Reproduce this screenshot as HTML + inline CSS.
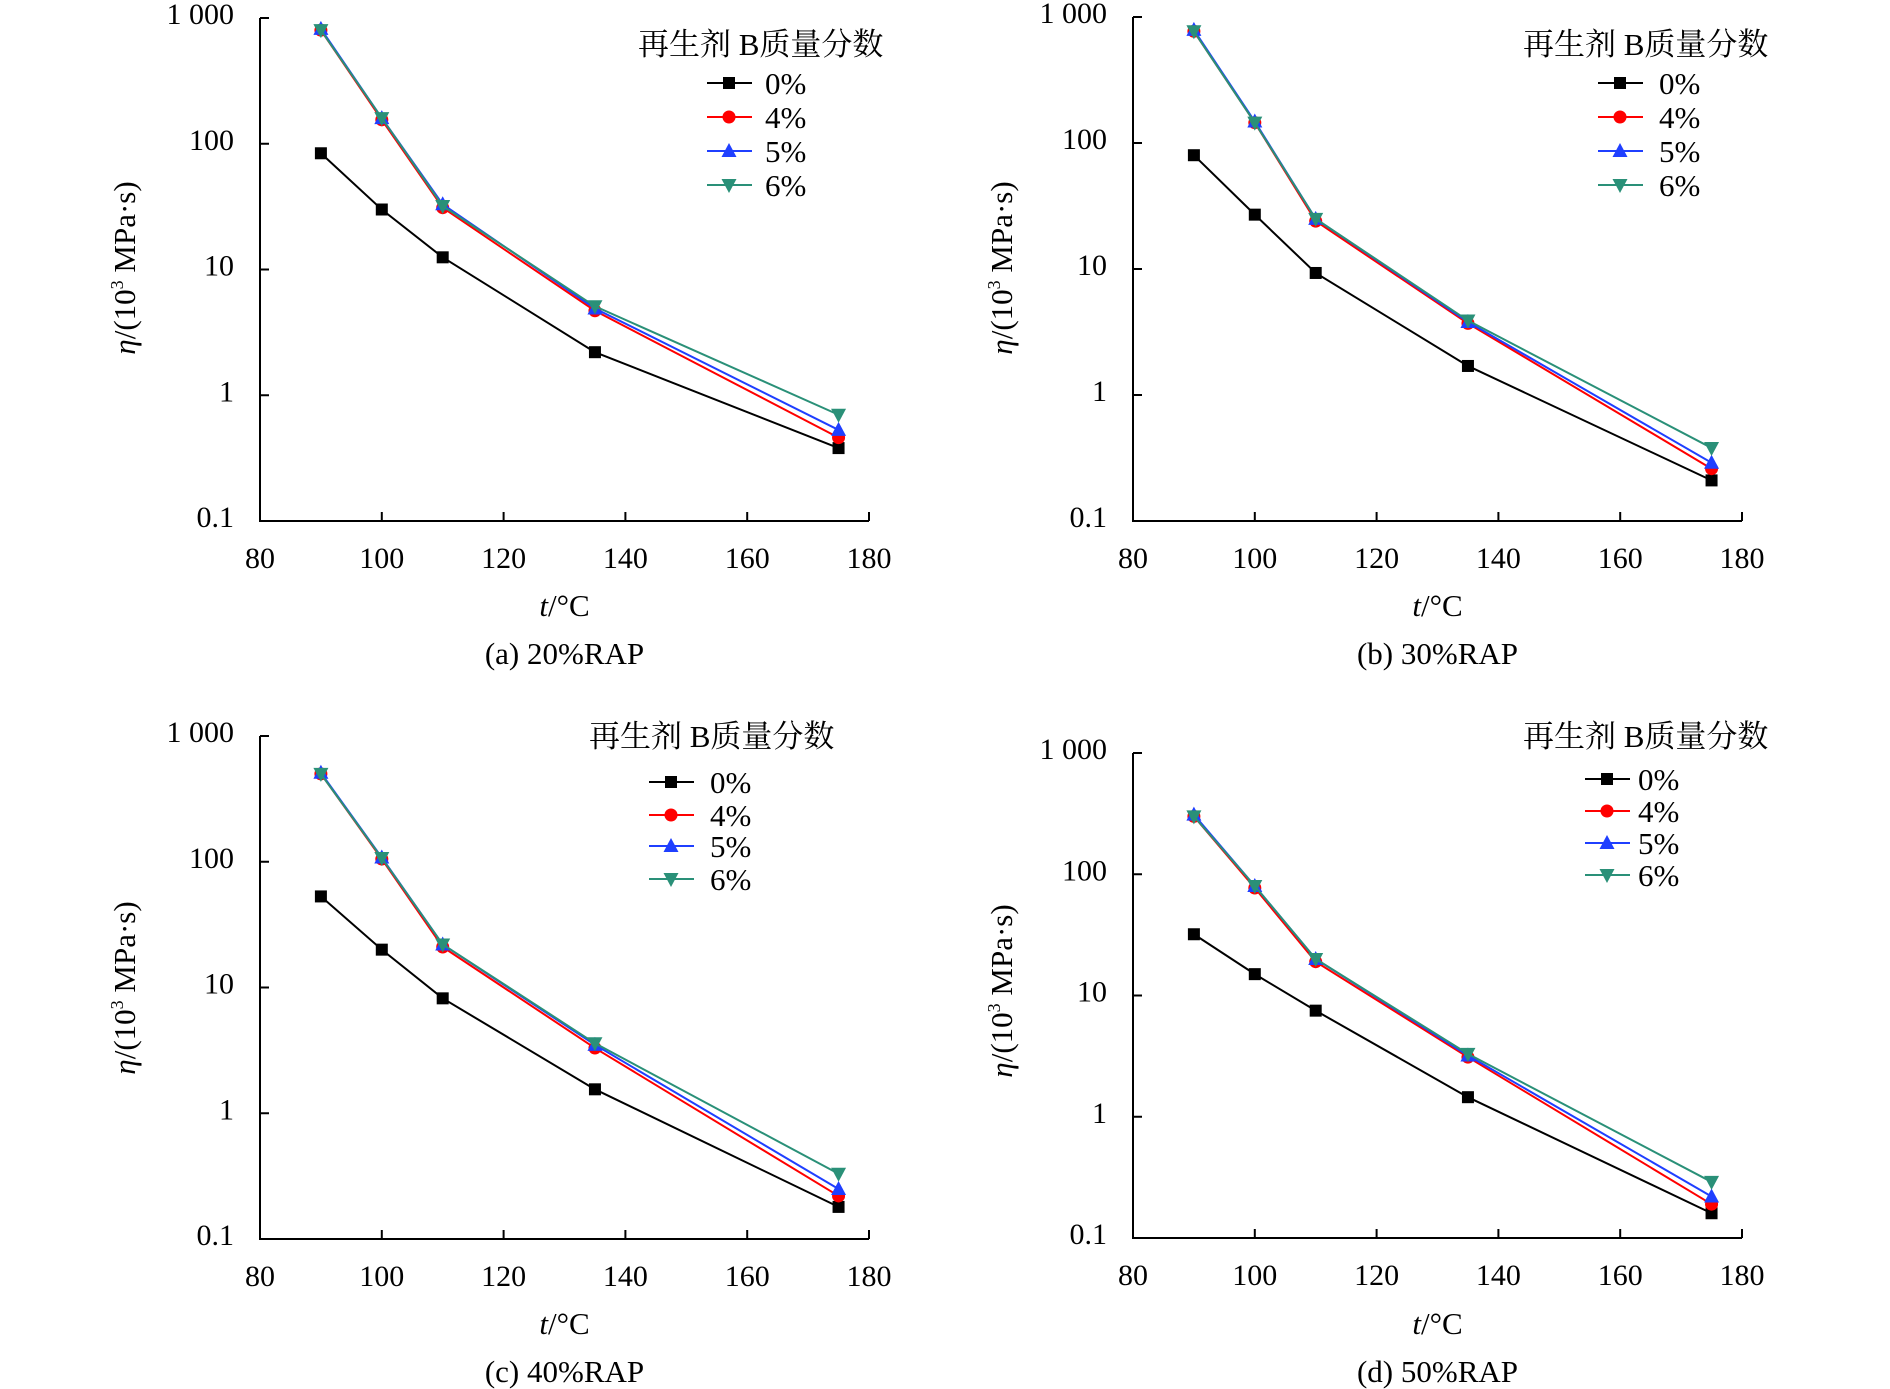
<!DOCTYPE html>
<html><head><meta charset="utf-8">
<style>
html,body{margin:0;padding:0;background:#fff;}
svg{display:block;}
text{font-family:"Liberation Serif","Noto Serif CJK SC",serif;fill:#000;}
</style></head>
<body>
<svg id="chart" width="1890" height="1389" viewBox="0 0 1890 1389"></svg>
<script>
const temps = [90, 100, 110, 135, 175];
const seriesNames = ['0%', '4%', '5%', '6%'];
const panelCaptions = ['(a) 20%RAP', '(b) 30%RAP', '(c) 40%RAP', '(d) 50%RAP'];
const xTicks = [80, 100, 120, 140, 160, 180];
const yTicks = [0.1, 1, 10, 100, 1000];
const yTickLabels = ['0.1', '1', '10', '100', '1 000'];
const dataA0 = [84, 30, 12.5, 2.2, 0.38];
const dataA4 = [800, 155, 31, 4.7, 0.46];
const dataA5 = [820, 160, 33, 4.9, 0.53];
const dataA6 = [800, 160, 32, 5.1, 0.70];
const dataB0 = [80, 27, 9.3, 1.7, 0.21];
const dataB4 = [770, 145, 24, 3.7, 0.26];
const dataB5 = [790, 148, 25, 3.8, 0.29];
const dataB6 = [770, 145, 25, 3.9, 0.38];
const dataC0 = [53, 20, 8.2, 1.55, 0.18];
const dataC4 = [500, 105, 21, 3.3, 0.22];
const dataC5 = [510, 108, 22, 3.5, 0.25];
const dataC6 = [500, 107, 22, 3.6, 0.33];
const dataD0 = [32, 15, 7.5, 1.45, 0.16];
const dataD4 = [300, 77, 19, 3.1, 0.19];
const dataD5 = [310, 80, 20, 3.2, 0.22];
const dataD6 = [300, 80, 20, 3.3, 0.29];

const panelData = [[dataA0,dataA4,dataA5,dataA6],[dataB0,dataB4,dataB5,dataB6],[dataC0,dataC4,dataC5,dataC6],[dataD0,dataD4,dataD5,dataD6]];
const colors = ['#000000', '#ff0000', '#1f3fff', '#2a9078'];
const markers = ['square', 'circle', 'tri', 'tridown'];
const layouts = [
  {x0:260,x1:869,yTop:18,yBot:521,ytx:125,yc:268,xlab:606,cap:654,legTitleX:638,legTitleY:44,legLine:707,legText:765,legY:[83,117,151,185]},
  {x0:1133,x1:1742,yTop:17,yBot:521,ytx:1002,yc:268,xlab:606,cap:654,legTitleX:1523,legTitleY:44,legLine:1598,legText:1659,legY:[83,117,151,185]},
  {x0:260,x1:869,yTop:736,yBot:1239,ytx:125,yc:988,xlab:1324,cap:1372,legTitleX:589,legTitleY:736,legLine:649,legText:710,legY:[782,815,846,879]},
  {x0:1133,x1:1742,yTop:753,yBot:1238,ytx:1002,yc:991,xlab:1324,cap:1372,legTitleX:1523,legTitleY:736,legLine:1585,legText:1638,legY:[779,811,843,875]}
];
const NS = 'http://www.w3.org/2000/svg';
const svg = document.getElementById('chart');
function mk(tag, attrs, parent){
  const e = document.createElementNS(NS, tag);
  for (const k in attrs) e.setAttribute(k, attrs[k]);
  (parent||svg).appendChild(e);
  return e;
}
function marker(g, type, x, y, c){
  let m;
  if (type==='square') m = mk('rect',{x:x-6,y:y-6,width:12,height:12,fill:c},g);
  else if (type==='circle') m = mk('circle',{cx:x,cy:y,r:6.5,fill:c},g);
  else if (type==='tri') m = mk('polygon',{points:`${x},${y-8} ${x+7.5},${y+6} ${x-7.5},${y+6}`,fill:c},g);
  else m = mk('polygon',{points:`${x},${y+8} ${x+7.5},${y-6} ${x-7.5},${y-6}`,fill:c},g);
  return m;
}
layouts.forEach((L, p) => {
  const g = mk('g', {});
  
  
  const xs = v => L.x0 + (v - 80) / 100 * (L.x1 - L.x0);
  const ys = v => L.yBot - (Math.log10(v) + 1) / 4 * (L.yBot - L.yTop);
  const ax = mk('path', {d:`M${L.x0},${L.yTop} V${L.yBot} H${L.x1}`, stroke:'#000', 'stroke-width':2, fill:'none'}, g);
  
  
  xTicks.forEach(t => {
    const x = xs(t);
    mk('line', {x1:x, x2:x, y1:L.yBot, y2:L.yBot-9, stroke:'#000', 'stroke-width':2}, g);
    const tx = mk('text', {x:x, y:L.yBot+47, 'text-anchor':'middle', 'font-size':30}, g);
    tx.textContent = t;
    
    
  });
  yTicks.forEach((t, i) => {
    const y = ys(t);
    mk('line', {x1:L.x0, x2:L.x0+9, y1:y, y2:y, stroke:'#000', 'stroke-width':2}, g);
    const tx = mk('text', {x:L.x0-26, y:y+6, 'text-anchor':'end', 'font-size':30}, g);
    tx.textContent = yTickLabels[i];
    
    
  });
  const xl = mk('text', {x:(L.x0+L.x1)/2, y:L.xlab+10, 'text-anchor':'middle', 'font-size':31}, g);
  xl.innerHTML = '<tspan font-style="italic">t</tspan>/°C';
  
  
  const yc = L.yc;
  const yl = mk('text', {x:L.ytx+10, y:yc, 'text-anchor':'middle', 'font-size':31, transform:`rotate(-90 ${L.ytx+10} ${yc})`}, g);
  yl.innerHTML = '<tspan font-style="italic">η</tspan>/(10<tspan font-size="18" dy="-12">3</tspan><tspan dy="12"> MPa·s)</tspan>';
  
  
  const cp = mk('text', {x:(L.x0+L.x1)/2, y:L.cap+10, 'text-anchor':'middle', 'font-size':31}, g);
  cp.textContent = panelCaptions[p];
  
  
  panelData[p].forEach((vals, s) => {
    const pts = temps.map((t, i) => xs(t) + ',' + ys(vals[i])).join(' ');
    const ln = mk('polyline', {points:pts, fill:'none', stroke:colors[s], 'stroke-width':2}, g);
    
    
    temps.forEach((t, i) => {
      const m = marker(g, markers[s], xs(t), ys(vals[i]), colors[s]);
      
      
    });
  });
  const lt = mk('text', {x:L.legTitleX, y:L.legTitleY+11, 'font-size':31}, g);
  lt.textContent = '再生剂 B质量分数';
  
  
  seriesNames.forEach((n, s) => {
    const y = L.legY[s];
    const le = mk('g', {}, g);
    
    
    mk('line', {x1:L.legLine, x2:L.legLine+45, y1:y, y2:y, stroke:colors[s], 'stroke-width':2}, le);
    marker(le, markers[s], L.legLine+22, y, colors[s]);
    const t = mk('text', {x:L.legText, y:y+11, 'font-size':31}, le);
    t.textContent = n;
  });
});
</script>
</body></html>
